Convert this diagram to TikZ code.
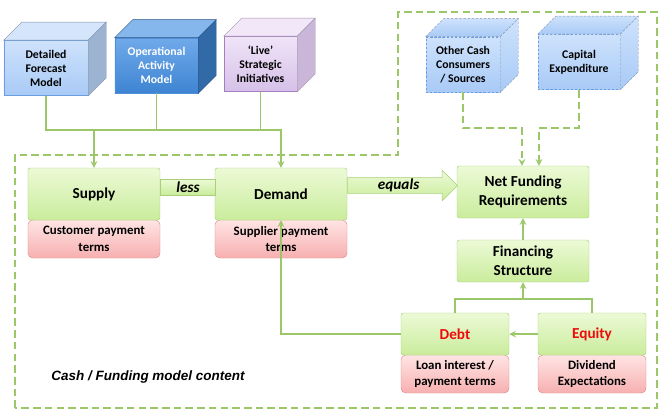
\documentclass[tikz,border=0pt]{standalone}
\usepackage{fontspec}
\setmainfont{Carlito}
\newfontfamily\arialfont{Liberation Sans}
\usetikzlibrary{shapes.arrows,calc}

\definecolor{linegreen}{RGB}{156,199,104}
\definecolor{boxline}{RGB}{168,208,120}
\definecolor{boxtop}{RGB}{236,250,214}
\definecolor{boxbot}{RGB}{202,236,156}
\definecolor{termline}{RGB}{222,140,140}
\definecolor{termtop}{RGB}{255,228,228}
\definecolor{termbot}{RGB}{247,176,176}
\definecolor{paleblue}{RGB}{206,226,252}
\definecolor{paleblue2}{RGB}{168,202,246}
\definecolor{paleedge}{RGB}{106,158,224}
\definecolor{midblue}{RGB}{112,170,234}
\definecolor{midblue2}{RGB}{62,132,210}
\definecolor{midedge}{RGB}{80,143,216}
\definecolor{lilac}{RGB}{240,228,248}
\definecolor{lilac2}{RGB}{214,192,232}
\definecolor{lilacedge}{RGB}{164,126,192}
\definecolor{debtred}{RGB}{240,10,10}

\begin{document}
\begin{tikzpicture}[x=0.03cm,y=-0.03cm,>=stealth,
    feed/.style={draw=linegreen, line width=1.5pt},
    dashfeed/.style={feed, dash pattern=on 6.5pt off 3.5pt},
    region/.style={draw=linegreen, line width=1.6pt, dash pattern=on 6.5pt off 3.5pt},
    greenbox/.style={draw=boxline, top color=boxtop, bottom color=boxbot,
        rounded corners=2pt, align=center, inner sep=2pt,
        font=\bfseries\fontsize{13}{16}\selectfont},
    termbox/.style={draw=termline, top color=termtop, bottom color=termbot,
        rounded corners=4pt, align=center, inner sep=1pt,
        minimum height=1.14cm, font=\bfseries\fontsize{11}{14}\selectfont},
    cubefront/.style={align=center, inner sep=1pt, minimum height=1.66cm,
        font=\bfseries\fontsize{10}{12}\selectfont},
    palecube/.style={cubefront, draw=paleedge, top color=paleblue, bottom color=paleblue2},
    dashcube/.style={palecube, dash pattern=on 2pt off 1.5pt},
    midcube/.style={cubefront, draw=midedge, top color=midblue, bottom color=midblue2, text=white},
    lilaccube/.style={cubefront, draw=lilacedge, top color=lilac, bottom color=lilac2},
    band/.style={draw=boxline, top color=boxtop, bottom color=boxbot,
        font=\bfseries\itshape\fontsize{13}{13}\selectfont},
    redtext/.style={text=debtred}]

    \useasboundingbox (0,0) rectangle (668,417);

    % dashed area of the cash / funding model
    \draw[region] (15,408) -- (15,155) -- (398,155) -- (398,12)
        -- (657,12) -- (657,408) -- cycle;
    \node[font=\arialfont\bfseries\itshape\fontsize{11.5}{14}\selectfont]
        (content) at (148,377) {Cash / Funding model content};

    % source cubes
    \node[palecube, minimum width=2.52cm] (forecast) at (46,68) {Detailed\\Forecast\\Model};
    \node[midcube, minimum width=2.49cm] (operational) at (156.5,65.5) {Operational\\Activity\\Model};
    \node[lilaccube, minimum width=2.19cm] (live) at (260.5,64) {‘Live’\\Strategic\\Initiatives};
    \node[dashcube, minimum width=2.22cm] (other) at (463,64.5) {Other Cash\\Consumers\\/ Sources};
    \node[dashcube, minimum width=2.46cm] (capex) at (579,62) {Capital\\Expenditure};

    \foreach \c/\topc/\sidec/\look in {forecast/paleblue!85/paleblue2!70!gray/solid,
        operational/midblue!85/midblue2!80!black/solid,
        live/lilac!90/lilac2!85!gray/solid,
        other/paleblue!85/paleblue2!70!gray/dashcube,
        capex/paleblue!85/paleblue2!70!gray/dashcube}{
        \filldraw[\look, draw=\sidec!80!black, fill=\topc]
            (\c.north west) -- ++(18,-18) -- ([shift={(18,-18)}]\c.north east)
            -- (\c.north east) -- cycle;
        \filldraw[\look, draw=\sidec!80!black, fill=\sidec]
            (\c.north east) -- ([shift={(18,-18)}]\c.north east)
            -- ([shift={(18,-18)}]\c.south east) -- (\c.south east) -- cycle;
    }

    % model boxes
    \node[termbox, minimum width=3.96cm] (supplyterms) at (94,239) {Customer payment\\terms};
    \node[greenbox, minimum width=3.96cm, minimum height=1.56cm] (supply) at (94,194) {Supply};
    \node[termbox, minimum width=3.96cm] (demandterms) at (281,239) {Supplier payment\\terms};
    \node[greenbox, minimum width=3.96cm, minimum height=1.56cm] (demand) at (281,194) {Demand};

    \node[greenbox, minimum width=3.96cm, minimum height=1.56cm] (net) at (523,192) {Net Funding\\Requirements};
    \node[greenbox, minimum width=3.96cm, minimum height=1.26cm] (financing) at (523,261) {Financing\\Structure};

    \node[termbox, minimum width=3.24cm] (debtterms) at (455,374) {Loan interest /\\payment terms};
    \node[greenbox, redtext, minimum width=3.24cm, minimum height=1.26cm] (debt) at (455,334) {Debt};
    \node[termbox, minimum width=3.24cm] (equityterms) at (592,374) {Dividend\\Expectations};
    \node[greenbox, redtext, minimum width=3.24cm, minimum height=1.26cm] (equity) at (592,334) {Equity};

    % less / equals
    \node[band, anchor=west, minimum width=1.65cm, minimum height=0.48cm, inner sep=0pt]
        (less) at ($(supply.east)+(0,-7)$) {less};
    \node[band, single arrow, anchor=tail, single arrow head extend=0.225cm,
        single arrow head indent=0pt, minimum height=3.3cm,
        text height=8.5pt, text depth=2pt, inner ysep=1.2pt, inner xsep=0pt]
        (equals) at ($(demand.east)+(0,-8.5)$) {equals};

    % connectors
    \coordinate (bus) at (0,130);
    \draw[feed] (operational.south) -- (operational.south |- bus);
    \draw[feed] (live.south) -- (live.south |- bus);
    \draw[feed,->] (forecast.south) |- (bus -| demand.north) -- (demand.north);
    \draw[feed,->] (supply.north |- bus) -- (supply.north);

    \coordinate (dbus) at (0,128);
    \coordinate (netinl) at ($(net.north)+(-1,0)$);
    \coordinate (netinr) at ($(net.north)+(16,0)$);
    \draw[dashfeed,->] (other.south) |- (dbus -| netinl) -- (netinl);
    \draw[dashfeed,->] (capex.south) |- (dbus -| netinr) -- (netinr);

    \draw[feed,->] (financing) -- (net);
    \coordinate (fbus) at (0,299);
    \draw[feed] (debt.north) |- (equity.north |- fbus) -- (equity.north);
    \draw[feed,->] (financing.south |- fbus) -- (financing.south);
    \draw[feed,->] (equity) -- (debt);
    \draw[feed,->] (debt.west) -| (demand.south);

\end{tikzpicture}
\end{document}
